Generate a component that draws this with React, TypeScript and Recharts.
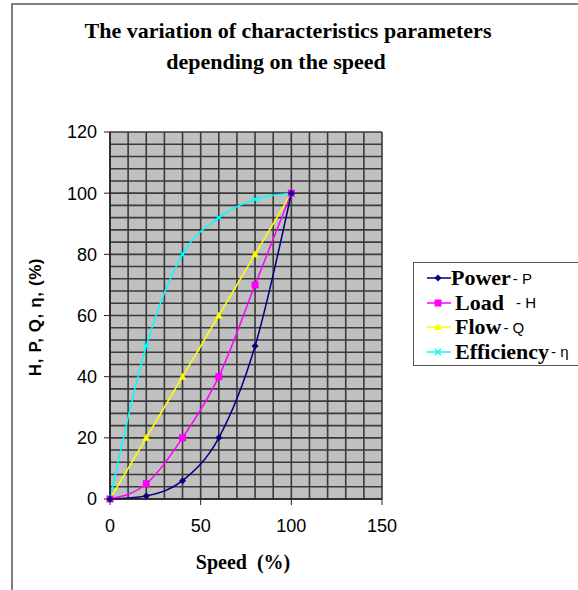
import React from 'react';
import { LineChart, Line, XAxis, YAxis, CartesianGrid } from 'recharts';

const speed = [0, 20, 40, 60, 80, 100];
const power = [0, 1, 6, 20, 50, 100];
const load = [0, 5, 20, 40, 70, 100];
const flow = [0, 20, 40, 60, 80, 100];
const efficiency = [0, 50, 80, 92, 98, 100];
const xTicks = [0, 50, 100, 150];
const yTicks = [0, 20, 40, 60, 80, 100, 120];

const data = speed.map((s, i) => ({
  speed: s,
  power: power[i],
  load: load[i],
  flow: flow[i],
  efficiency: efficiency[i],
}));

const X_MAX = 150;
const Y_MAX = 120;

const NAVY = '#000080';
const MAGENTA = '#FF00FF';
const YELLOW = '#FFFF00';
const CYAN = '#00FFFF';

const Diamond = (props: any) => {
  const { cx, cy, key } = props;
  return <path key={key} d={`M${cx},${cy - 3.5}L${cx + 3.5},${cy}L${cx},${cy + 3.5}L${cx - 3.5},${cy}Z`} fill={NAVY} />;
};
const Square = (props: any) => {
  const { cx, cy, key } = props;
  return <rect key={key} x={cx - 3.5} y={cy - 3.5} width={7} height={7} fill={MAGENTA} />;
};
const Triangle = (props: any) => {
  const { cx, cy, key } = props;
  return <path key={key} d={`M${cx},${cy - 4}L${cx + 4},${cy + 3}L${cx - 4},${cy + 3}Z`} fill={YELLOW} />;
};
const Cross = (props: any) => {
  const { cx, cy, key } = props;
  return (
    <path key={key} d={`M${cx - 3},${cy - 3}L${cx + 3},${cy + 3}M${cx + 3},${cy - 3}L${cx - 3},${cy + 3}`} stroke={CYAN} strokeWidth={1.5} />
  );
};

const legendItems = [
  { name: 'Power', sub: '- P', color: NAVY, Marker: Diamond },
  { name: 'Load', sub: ' - H', color: MAGENTA, Marker: Square },
  { name: 'Flow', sub: '- Q', color: YELLOW, Marker: Triangle },
  { name: 'Efficiency', sub: '- η', color: CYAN, Marker: Cross },
];

const serif = '"Liberation Serif", "Times New Roman", serif';
const sans = '"Liberation Sans", Arial, sans-serif';

// grid every 10 on x, every 4 on y
const vGen = ({ offset }: any) => {
  const out: number[] = [];
  for (let v = 0; v <= X_MAX; v += 10) out.push(offset.left + (v / X_MAX) * offset.width);
  return out;
};
const hGen = ({ offset }: any) => {
  const out: number[] = [];
  for (let v = 0; v <= Y_MAX; v += 4) out.push(offset.top + offset.height - (v / Y_MAX) * offset.height);
  return out;
};

export default function App() {
  return (
    <div style={{ position: 'absolute', left: 0, top: 0, width: 578, height: 590, background: '#fff', overflow: 'hidden' }}>
      <div style={{ position: 'absolute', left: 11, top: 3, width: 580, height: 600, border: '2px solid #808080', boxSizing: 'border-box' }} />
      <div style={{ position: 'absolute', left: 288, top: 31, transform: 'translate(-50%, -50%)', whiteSpace: 'nowrap', fontFamily: serif, fontWeight: 'bold', fontSize: 22, color: '#000' }}>
        The variation of characteristics parameters
      </div>
      <div style={{ position: 'absolute', left: 276, top: 62, transform: 'translate(-50%, -50%)', whiteSpace: 'nowrap', fontFamily: serif, fontWeight: 'bold', fontSize: 22, color: '#000' }}>
        depending on the speed
      </div>
      <div style={{ position: 'absolute', left: 0, top: 0 }}>
        <LineChart width={578} height={590} data={data} margin={{ top: 132, right: 196, bottom: 61, left: 0 }}>
          <CartesianGrid
            fill="#C0C0C0"
            fillOpacity={1}
            stroke="#3a3a3a"
            strokeWidth={1.6}
            verticalCoordinatesGenerator={vGen}
            horizontalCoordinatesGenerator={hGen}
          />
          <XAxis
            type="number"
            dataKey="speed"
            domain={[0, X_MAX]}
            ticks={xTicks}
            height={30}
            axisLine={{ stroke: '#222', strokeWidth: 1.5 }}
            tickLine={{ stroke: '#222' }}
            tickSize={6}
            tick={{ fill: '#000', fontSize: 18, fontFamily: sans, dy: 12 }}
          />
          <YAxis
            type="number"
            domain={[0, Y_MAX]}
            ticks={yTicks}
            width={110}
            axisLine={{ stroke: '#222', strokeWidth: 1.5 }}
            tickLine={{ stroke: '#222' }}
            tickSize={6}
            tick={{ fill: '#000', fontSize: 18, fontFamily: sans, dx: -5 }}
          />
          <Line type="monotone" dataKey="efficiency" stroke={CYAN} strokeWidth={1.5} dot={Cross} isAnimationActive={false} />
          <Line type="monotone" dataKey="flow" stroke={YELLOW} strokeWidth={1.5} dot={Triangle} isAnimationActive={false} />
          <Line type="monotone" dataKey="load" stroke={MAGENTA} strokeWidth={1.5} dot={Square} isAnimationActive={false} />
          <Line type="monotone" dataKey="power" stroke={NAVY} strokeWidth={1.5} dot={Diamond} isAnimationActive={false} />
        </LineChart>
      </div>
      <div
        style={{
          position: 'absolute',
          left: 36,
          top: 317,
          transform: 'translate(-50%, -50%) rotate(-90deg)',
          whiteSpace: 'nowrap',
          fontFamily: sans,
          fontWeight: 'bold',
          fontSize: 17,
          letterSpacing: 0.6,
          color: '#000',
        }}
      >
        H, P, Q, η, (%)
      </div>
      <div style={{ position: 'absolute', left: 243, top: 562, transform: 'translate(-50%, -50%)', whiteSpace: 'nowrap', fontFamily: serif, fontWeight: 'bold', fontSize: 20, color: '#000' }}>
        Speed&nbsp;&nbsp;(%)
      </div>
      <div
        style={{
          position: 'absolute',
          left: 413,
          top: 262,
          width: 166,
          height: 104,
          border: '1.5px solid #555',
          boxSizing: 'border-box',
          background: '#fff',
          paddingTop: 3,
          paddingLeft: 13,
        }}
      >
        {legendItems.map((it) => (
          <div key={it.name} style={{ display: 'flex', alignItems: 'center', height: 24.5, whiteSpace: 'nowrap' }}>
            <svg width={24} height={12} style={{ flex: 'none' }}>
              <line x1={0} y1={6} x2={24} y2={6} stroke={it.color} strokeWidth={1.5} />
              {it.Marker({ cx: 11, cy: 6, key: 'm' })}
            </svg>
            <span style={{ fontFamily: serif, fontWeight: 'bold', fontSize: 22, color: '#000', marginLeft: it.name === 'Power' ? 0 : 4 }}>{it.name}</span>
            <span style={{ fontFamily: sans, fontSize: 15, color: '#000', marginLeft: it.name === 'Load' ? 8 : 2, whiteSpace: 'pre' }}>{it.sub}</span>
          </div>
        ))}
      </div>
    </div>
  );
}
